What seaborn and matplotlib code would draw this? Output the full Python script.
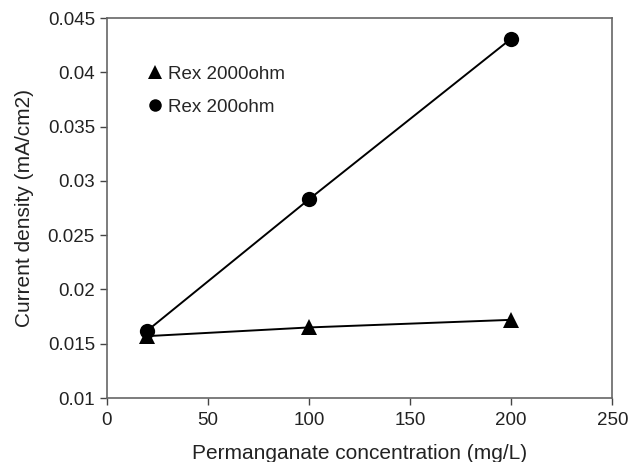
import matplotlib
matplotlib.use("Agg")
import matplotlib.pyplot as plt
import seaborn as sns
import pandas as pd
from matplotlib.lines import Line2D

concentration = [20, 100, 200]
rex_2000 = [0.0157, 0.0165, 0.0172]
rex_200 = [0.0162, 0.0283, 0.0431]

df = pd.DataFrame({
    "conc": concentration * 2,
    "current": rex_2000 + rex_200,
    "series": ["Rex 2000ohm"] * 3 + ["Rex 200ohm"] * 3,
})

sns.set_theme(style="ticks")
plt.rcParams["font.family"] = ["Liberation Sans", "DejaVu Sans"]

fig = plt.figure(figsize=(6.28, 4.62), dpi=100)
ax = fig.add_axes([0.170, 0.1385, 0.805, 0.8225])

sns.lineplot(data=df, x="conc", y="current", hue="series", style="series",
             markers={"Rex 2000ohm": "^", "Rex 200ohm": "o"}, dashes=False,
             palette={"Rex 2000ohm": "black", "Rex 200ohm": "black"},
             markersize=11, linewidth=1.4, markeredgewidth=0, ax=ax,
             legend=False)

ax.set_xlim(0, 250)
ax.set_ylim(0.01, 0.045)
ax.set_xticks([0, 50, 100, 150, 200, 250])
ax.set_yticks([0.01, 0.015, 0.02, 0.025, 0.03, 0.035, 0.04, 0.045])
ax.set_yticklabels(["0.01", "0.015", "0.02", "0.025", "0.03", "0.035", "0.04", "0.045"])
ax.tick_params(axis="both", direction="out", length=5, width=1, labelsize=13.5,
               color="#444444", labelcolor="#222222")
ax.tick_params(axis="x", pad=5)
for s in ax.spines.values():
    s.set_color("#666666")
    s.set_linewidth(1.2)

ax.set_xlabel("Permanganate concentration (mg/L)", fontsize=15, color="#222222", labelpad=11)
ax.set_ylabel("Current density (mA/cm2)", fontsize=15, color="#222222", labelpad=10)

handles = [
    Line2D([], [], marker="^", color="black", linestyle="none", markersize=10, markeredgewidth=0),
    Line2D([], [], marker="o", color="black", linestyle="none", markersize=9, markeredgewidth=0),
]
ax.legend(handles, ["Rex 2000ohm", "Rex 200ohm"], loc="upper left",
          bbox_to_anchor=(0.06, 0.895), frameon=False, fontsize=13.5,
          handletextpad=0.15, labelspacing=0.85, handlelength=1.1,
          borderaxespad=0)

fig.savefig("out.png", dpi=100)
